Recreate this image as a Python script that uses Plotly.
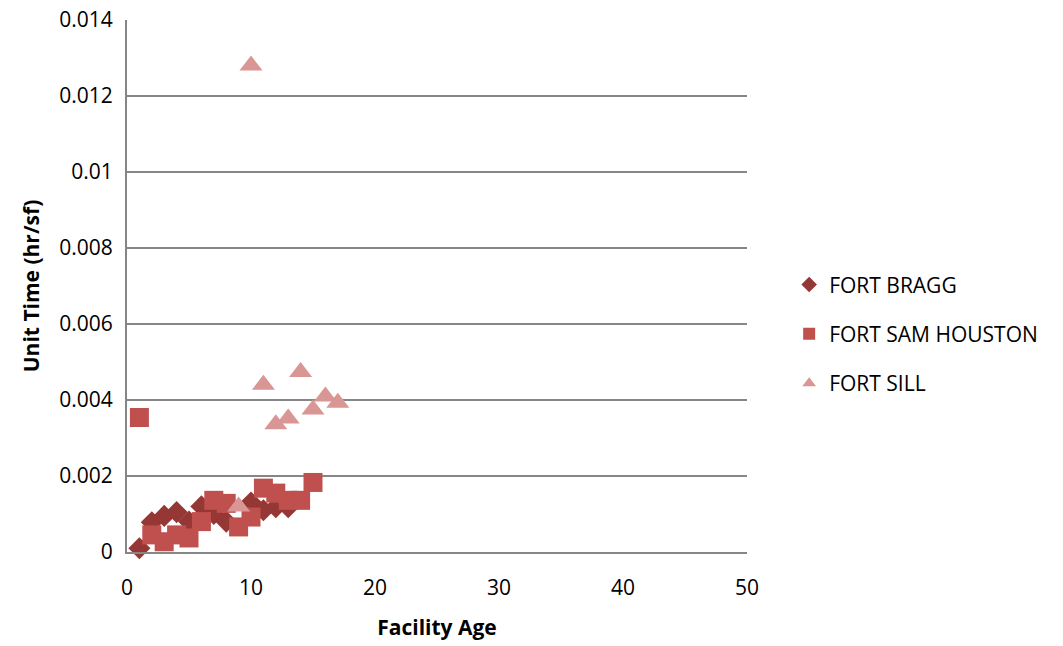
import plotly.graph_objects as go

# Facility age (years) vs unit maintenance time (hr/sf)
bragg_age = [1, 2, 3, 4, 5, 6, 7, 8, 10, 11, 12, 13]
bragg_time = [0.0001, 0.00078, 0.00095, 0.00105, 0.0008, 0.0012, 0.001, 0.0008,
              0.0013, 0.0011, 0.00118, 0.00118]

sam_age = [1, 2, 3, 4, 5, 6, 7, 8, 9, 10, 11, 12, 13, 14, 15]
sam_time = [0.00354, 0.00045, 0.00027, 0.00045, 0.00037, 0.0008, 0.00136, 0.00128,
            0.00066, 0.00092, 0.00168, 0.00155, 0.00136, 0.00136, 0.00183]

sill_age = [9, 10, 11, 12, 13, 14, 15, 16, 17]
sill_time = [0.0012, 0.0128, 0.0044, 0.00336, 0.00351, 0.00474, 0.00375, 0.00409, 0.00393]

y_ticks = [0, 0.002, 0.004, 0.006, 0.008, 0.01, 0.012, 0.014]
y_labels = ["0", "0.002", "0.004", "0.006", "0.008", "0.01", "0.012", "0.014"]
x_ticks = [0, 10, 20, 30, 40, 50]

FONT = "Open Sans, Noto Sans, Liberation Sans, sans-serif"
FS = 21

fig = go.Figure()
fig.add_trace(go.Scatter(
    x=bragg_age, y=bragg_time, mode="markers", name="FORT BRAGG",
    legendgroup="a",
    marker=dict(symbol="diamond", size=17, color="#953735", line=dict(width=0)),
    cliponaxis=False,
))
fig.add_trace(go.Scatter(
    x=sam_age, y=sam_time, mode="markers", name="FORT SAM HOUSTON",
    legendgroup="b",
    marker=dict(symbol="square", size=19, color="#C0504D", line=dict(width=0)),
    cliponaxis=False,
))
fig.add_trace(go.Scatter(
    x=sill_age, y=sill_time, mode="markers", name="FORT SILL",
    legendgroup="c",
    marker=dict(symbol="triangle-up", size=20, color="#D99694", line=dict(width=0)),
    cliponaxis=False,
))

fig.update_layout(
    width=1063, height=646,
    margin=dict(l=127, r=316, t=20, b=94),
    paper_bgcolor="white", plot_bgcolor="white",
    font=dict(family=FONT, size=FS, color="#000000"),
    showlegend=True,
    legend=dict(
        x=1.068, y=0.41, xanchor="left", yanchor="middle",
        font=dict(size=FS, family=FONT),
        tracegroupgap=19, itemsizing="constant",
        bgcolor="rgba(0,0,0,0)",
    ),
    xaxis=dict(
        range=[0, 50], tickvals=x_ticks, ticks="", showgrid=False,
        showline=True, linecolor="#868686", linewidth=2, zeroline=False,
        automargin=False,
        tickfont=dict(size=FS, family=FONT), ticklabelstandoff=16,
        title=dict(text="<b>Facility Age</b>", font=dict(size=FS, family=FONT), standoff=20),
    ),
    yaxis=dict(
        range=[0, 0.014], tickvals=y_ticks, ticktext=y_labels, ticks="",
        showgrid=True, gridcolor="#868686", gridwidth=1.5,
        showline=True, linecolor="#868686", linewidth=2, zeroline=False,
        automargin=False,
        tickfont=dict(size=FS, family=FONT), ticklabelstandoff=8,
        title=dict(text="<b>Unit Time (hr/sf)</b>", font=dict(size=FS, family=FONT), standoff=14),
    ),
)

fig.write_html("out.html")
